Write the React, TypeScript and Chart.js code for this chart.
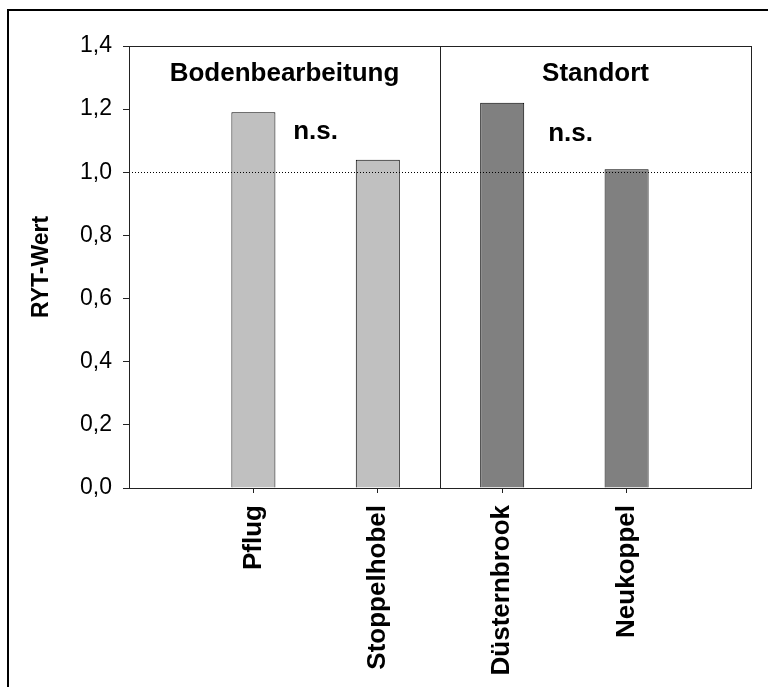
import React, { useEffect, useRef } from "react";
import { Chart, registerables } from "chart.js";

Chart.register(...registerables);

// ---- data ----
const categories = ["", "Pflug", "Stoppelhobel", "Düsternbrook", "Neukoppel", ""];
const rytValues = [null, 1.19, 1.04, 1.22, 1.01, null];
const barColors = ["#c0c0c0", "#c0c0c0", "#c0c0c0", "#808080", "#808080", "#808080"];
const yMin = 0;
const yMax = 1.4;
const yStep = 0.2;
const yTitle = "RYT-Wert";
const groupLabels = ["Bodenbearbeitung", "Standort"];
const groupCenters = [1.25, 3.75];
const groupLabelY = [1.29, 1.29];
const sigLabels = ["n.s.", "n.s."];
const sigX = [1.5, 3.55];
const sigY = [1.105, 1.1];
const referenceValue = 1.0;
const dividerPosition = 2.5;

const FONT = "'Liberation Sans', Arial, Helvetica, sans-serif";

const overlayPlugin = {
  id: "overlay",
  afterDatasetsDraw(chart: any) {
    const { ctx, chartArea: a, scales } = chart;
    const x = scales.x;
    const y = scales.y;
    ctx.save();
    // dotted reference line
    ctx.strokeStyle = "#000";
    ctx.lineWidth = 1;
    ctx.setLineDash([1, 2]);
    const ry = Math.round(y.getPixelForValue(referenceValue)) + 0.5;
    ctx.beginPath();
    ctx.moveTo(a.left, ry);
    ctx.lineTo(a.right, ry);
    ctx.stroke();
    ctx.setLineDash([]);
    // divider
    ctx.strokeStyle = "#222";
    const dx = Math.round(x.getPixelForValue(dividerPosition)) + 0.5;
    ctx.beginPath();
    ctx.moveTo(dx, a.top);
    ctx.lineTo(dx, a.bottom);
    ctx.stroke();
    // plot frame
    ctx.strokeStyle = "#222";
    const l = Math.round(a.left) + 0.5;
    const t = Math.round(a.top) + 0.5;
    const r = Math.round(a.right) + 0.5;
    const b = Math.round(a.bottom) + 0.5;
    ctx.strokeRect(l, t, r - l, b - t);
    // texts
    ctx.fillStyle = "#000";
    ctx.font = `bold 26px ${FONT}`;
    ctx.textAlign = "center";
    ctx.textBaseline = "alphabetic";
    groupLabels.forEach((s, i) => {
      ctx.fillText(s, x.getPixelForValue(groupCenters[i]), y.getPixelForValue(groupLabelY[i]));
    });
    sigLabels.forEach((s, i) => {
      ctx.fillText(s, x.getPixelForValue(sigX[i]), y.getPixelForValue(sigY[i]));
    });
    ctx.restore();
  },
};

export default function App() {
  const ref = useRef<HTMLCanvasElement | null>(null);
  useEffect(() => {
    if (!ref.current) return;
    const chart = new Chart(ref.current, {
      type: "bar",
      data: {
        labels: categories,
        datasets: [
          {
            data: rytValues as any,
            backgroundColor: barColors,
            borderColor: "#000",
            borderWidth: 1,
            barPercentage: 0.354,
            categoryPercentage: 1,
          },
        ],
      },
      options: {
        animation: false,
        responsive: false,
        maintainAspectRatio: false,
        layout: { padding: { top: 46, right: 17, left: 0, bottom: 0 } },
        plugins: { legend: { display: false }, tooltip: { enabled: false } },
        scales: {
          x: {
            type: "category",
            offset: false,
            border: { display: false },
            grid: {
              offset: false,
              drawOnChartArea: false,
              drawTicks: true,
              tickLength: 5,
              color: (c: any) => (c.index === 0 || c.index === categories.length - 1 ? "rgba(0,0,0,0)" : "#222"),
            },
            ticks: {
              autoSkip: false,
              maxRotation: 90,
              minRotation: 90,
              padding: 12,
              color: "#000",
              font: { family: FONT, size: 26, weight: "bold" },
            },
            afterFit: (s: any) => {
              s.height = 199;
              s.paddingLeft = 0;
              s.paddingRight = 0;
            },
          },
          y: {
            min: yMin,
            max: yMax,
            border: { display: false },
            grid: {
              drawOnChartArea: false,
              drawTicks: true,
              tickLength: 6,
              color: "#222",
            },
            ticks: {
              stepSize: yStep,
              padding: 11,
              color: "#000",
              font: { family: FONT, size: 23 },
              callback: (v: any) => Number(v).toFixed(1).replace(".", ","),
            },
            title: {
              display: true,
              text: yTitle,
              color: "#000",
              font: { family: FONT, size: 23, weight: "bold" },
              padding: { top: 28, bottom: 0 },
            },
            afterFit: (s: any) => {
              s.width = 129;
              s.paddingTop = 0;
              s.paddingBottom = 0;
            },
          },
        },
      },
      plugins: [overlayPlugin],
    });
    return () => chart.destroy();
  }, []);

  return (
    <div style={{ position: "fixed", left: 0, top: 0, width: 768, height: 687, overflow: "hidden", background: "#fff" }}>
      <div
        style={{
          position: "absolute",
          left: 7,
          top: 9,
          width: 900,
          height: 900,
          border: "2px solid #000",
        }}
      />
      <canvas ref={ref} width={768} height={687} style={{ position: "absolute", left: 0, top: 0, width: 768, height: 687 }} />
    </div>
  );
}
